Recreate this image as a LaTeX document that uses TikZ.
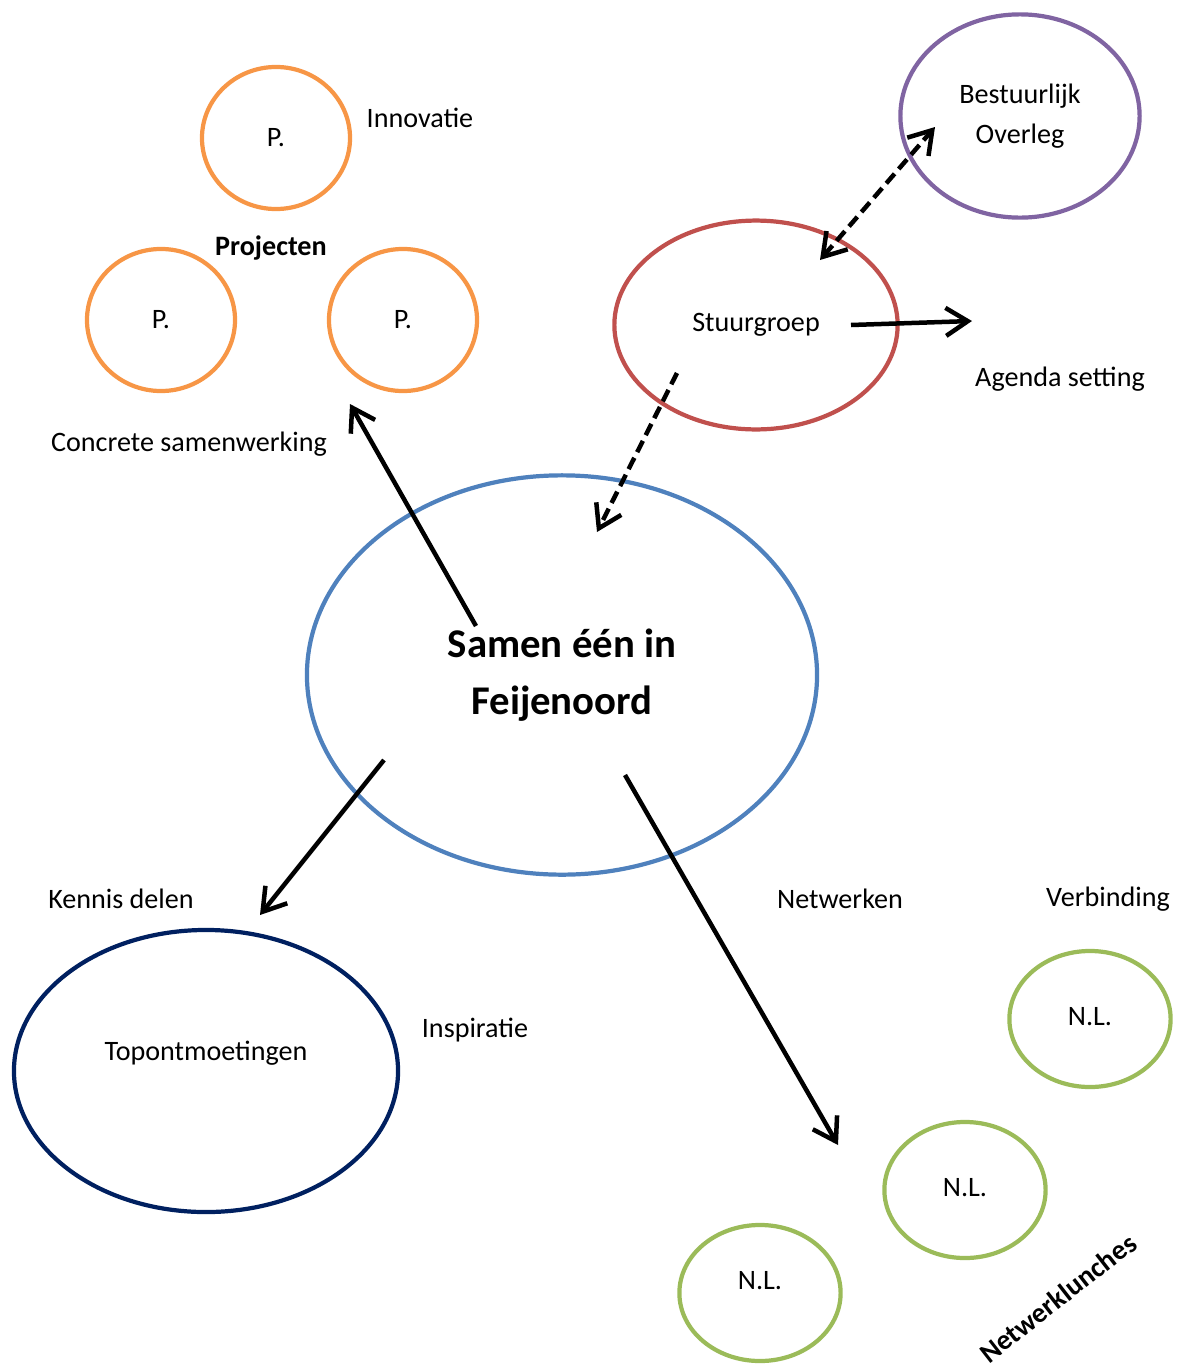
\documentclass[tikz,border=0pt]{standalone}
\usepackage{fontspec}
\setmainfont{Carlito}
\usetikzlibrary{shapes,arrows.meta}

\definecolor{porange}{HTML}{F79646}
\definecolor{bpurple}{HTML}{8064A2}
\definecolor{sred}{HTML}{C0504D}
\definecolor{mblue}{HTML}{4F81BD}
\definecolor{tnavy}{HTML}{002060}
\definecolor{ngreen}{HTML}{9BBB59}

\begin{document}
\begin{tikzpicture}[x=0.025cm, y=-0.025cm, font=\fontsize{20}{28}\selectfont]
        % Define styles
        \tikzstyle{ring} = [ellipse, draw, line width=3pt, inner sep=0pt, align=center]
        \tikzstyle{pring} = [ring, draw=porange, minimum width=3.7cm, minimum height=3.55cm]
        \tikzstyle{nlring} = [ring, draw=ngreen, minimum width=4.03cm, minimum height=3.4cm]
        \tikzstyle{arrow} = [line width=3.2pt, -{Straight Barb[length=5.5mm, width=7mm]}]
        \tikzstyle{dasharrow} = [arrow, dash pattern=on 9pt off 4.5pt]

        \useasboundingbox (0,0) rectangle (1184,1369);

        % Nodes
        \node [pring] (p1) at (276,138) {P.};
        \node [pring] (p2) at (161,320) {P.};
        \node [pring] (p3) at (403,320) {P.};
        \node (innov) at (420,118) {Innovatie};
        \node [font=\fontsize{20}{28}\selectfont\bfseries] (proj) at (271,248) {Projecten};
        \node (concrete) at (189,444) {Concrete samenwerking};

        \node [ring, draw=bpurple, minimum width=5.98cm, minimum height=5.08cm] (bestuur) at (1020,116) {Bestuurlijk\\Overleg};
        \node [ring, draw=sred, minimum width=7.08cm, minimum height=5.22cm] (stuur) at (756,325) {Stuurgroep};
        \node (agenda) at (1060,379) {Agenda setting};

        \node [ring, draw=mblue, minimum width=12.75cm, minimum height=9.98cm,
            font=\fontsize{29}{40.5}\selectfont\bfseries] (samen) at (562,675) {Samen één in\\Feijenoord};

        \node [ring, draw=tnavy, minimum width=9.6cm, minimum height=7.05cm,
            label={[yshift=0.45cm]center:Topontmoetingen}] (topo) at (206,1071) {};
        \node (kennis) at (121,899) {Kennis delen};
        \node (inspi) at (475,1030) {Inspiratie};

        \node (netw) at (840,899) {Netwerken};
        \node (verb) at (1108,899) {Verbinding};
        \node [nlring, label={[yshift=0.05cm]center:N.L.}] (nl1) at (1090,1019) {};
        \node [nlring, label={[yshift=0.05cm]center:N.L.}] (nl2) at (965,1190) {};
        \node [nlring, label={[yshift=0.3cm]center:N.L.}] (nl3) at (760,1293) {};
        \node [rotate=38, font=\fontsize{20}{28}\selectfont\bfseries] (lunch) at (1058,1298) {Netwerklunches};

        % Arrow ends
        \coordinate (sgout) at (851,325);
        \coordinate (agin) at (972,321);
        \coordinate (boend) at (935,127);
        \coordinate (sgend) at (820,260);
        \coordinate (sgdown) at (677,373);
        \coordinate (smin) at (597,532);
        \coordinate (smup) at (476,626);
        \coordinate (projin) at (350,404);
        \coordinate (smleft) at (384,760);
        \coordinate (kennisin) at (260,915);
        \coordinate (smright) at (625,775);
        \coordinate (nlin) at (838,1145);

        % Arrows
        \draw [arrow] (sgout) -- (agin);
        \draw [dasharrow, {Straight Barb[length=5.5mm, width=7mm]}-{Straight Barb[length=5.5mm, width=7mm]}] (sgend) -- (boend);
        \draw [dasharrow] (sgdown) -- (smin);
        \draw [arrow] (smup) -- (projin);
        \draw [arrow] (smleft) -- (kennisin);
        \draw [arrow] (smright) -- (nlin);

    \end{tikzpicture}
\end{document}
